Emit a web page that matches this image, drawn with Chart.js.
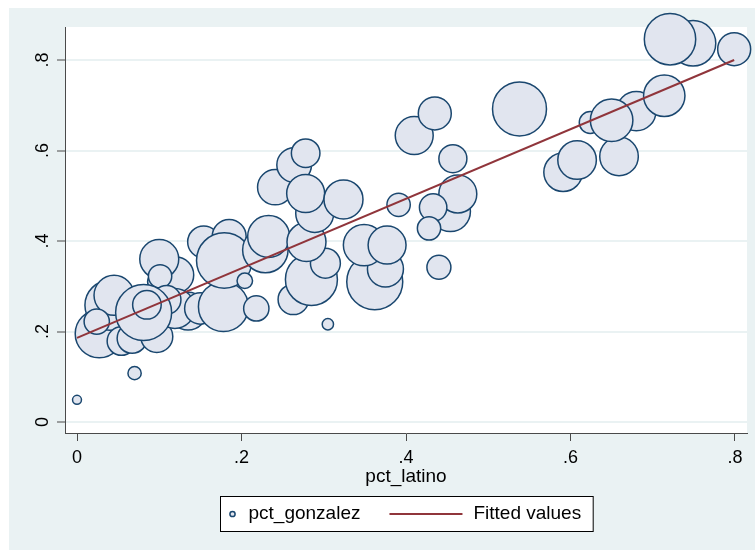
<!DOCTYPE html>
<html>
<head>
<meta charset="utf-8">
<script src="https://cdn.jsdelivr.net/npm/chart.js@4/dist/chart.umd.min.js"></script>
<style>
  html, body { margin: 0; padding: 0; background: #ffffff; }
  #wrap { width: 755px; height: 550px; }
</style>
</head>
<body>
<div id="wrap"><canvas id="chart" width="755" height="550"></canvas></div>
<script>
// Share of Latino residents per district (x) and Gonzalez vote share (y),
// with a weight per district that sets the bubble area.
const pctLatino = [
  0.027, 0.040, 0.045, 0.024, 0.054, 0.067, 0.097, 0.120, 0.098, 0.100,
  0.101, 0.135, 0.119, 0.109, 0.081, 0.085, 0.150, 0.178, 0.154, 0.185,
  0.179, 0.204, 0.218, 0.229, 0.233, 0.263, 0.285, 0.302, 0.279, 0.289,
  0.241, 0.264, 0.278, 0.278, 0.324, 0.305, 0.362, 0.375, 0.349, 0.377,
  0.391, 0.454, 0.463, 0.433, 0.428, 0.440, 0.410, 0.435, 0.457, 0.538,
  0.591, 0.608, 0.659, 0.624, 0.680, 0.650, 0.714, 0.749, 0.721, 0.799,
  0.070, 0.000
];
const pctGonzalez = [
  0.195, 0.258, 0.280, 0.222, 0.179, 0.185, 0.189, 0.325, 0.310, 0.360,
  0.322, 0.245, 0.251, 0.270, 0.242, 0.259, 0.251, 0.255, 0.398, 0.410,
  0.357, 0.312, 0.251, 0.380, 0.410, 0.271, 0.315, 0.351, 0.398, 0.461,
  0.519, 0.568, 0.505, 0.594, 0.492, 0.216, 0.310, 0.338, 0.391, 0.391,
  0.480, 0.465, 0.504, 0.474, 0.428, 0.342, 0.633, 0.682, 0.582, 0.692,
  0.552, 0.579, 0.587, 0.662, 0.687, 0.667, 0.721, 0.837, 0.846, 0.824,
  0.108, 0.049
];
const weight = [
  144, 156, 100, 40, 51, 56, 64, 81, 25, 95,
  34, 90, 100, 51, 196, 51, 62, 156, 64, 72,
  192, 15, 40, 129, 110, 58, 169, 56, 95, 90,
  78, 75, 90, 51, 95, 8, 196, 81, 107, 90,
  34, 100, 90, 47, 34, 36, 90, 68, 49, 182,
  93, 93, 93, 30, 97, 113, 107, 129, 165, 68,
  11, 5
];

// Linear fit of pct_gonzalez on pct_latino, at the ends of the x range.
const fitX = [0, 0.799];
const fitY = [0.186, 0.800];

const xTicks = [0, 0.2, 0.4, 0.6, 0.8];
const yTicks = [0, 0.2, 0.4, 0.6, 0.8];
const seriesNames = ['pct_gonzalez', 'Fitted values'];
const xTitle = 'pct_latino';

const FONT = '"Liberation Sans", Arial, Helvetica, sans-serif';
const NAVY = '#1A476F';
const BUBBLE_FILL = '#E1E5EF';
const MAROON = '#90353B';
const REGION_BG = '#EAF2F3';
const AXIS = '#4a4a4a';

// "0", ".2", ".4" ... with no leading zero
function fmt(v) {
  if (Math.abs(v) < 1e-9) return '0';
  return String(Math.round(v * 10) / 10).replace(/^0\./, '.');
}

const bubbleData = pctLatino.map((x, i) => ({ x: x, y: pctGonzalez[i], r: 2 * Math.sqrt(weight[i]) }));
const fitData = fitX.map((x, i) => ({ x: x, y: fitY[i] }));

// Graph region and plot region backgrounds
const backgroundPlugin = {
  id: 'regions',
  beforeDraw(chart) {
    const { ctx, chartArea: a } = chart;
    ctx.save();
    ctx.fillStyle = '#ffffff';
    ctx.fillRect(0, 0, chart.width, chart.height);
    ctx.fillStyle = REGION_BG;
    ctx.fillRect(9, 8, chart.width - 9, chart.height - 8);
    ctx.fillStyle = '#ffffff';
    ctx.fillRect(a.left, a.top, a.right - a.left, a.bottom - a.top);
    ctx.restore();
  }
};

// Vertical y tick labels, read bottom to top
const yLabelPlugin = {
  id: 'yLabels',
  afterDraw(chart) {
    const { ctx } = chart;
    const ys = chart.scales.y;
    ctx.save();
    ctx.font = '18px ' + FONT;
    ctx.fillStyle = '#000000';
    ctx.textAlign = 'center';
    ctx.textBaseline = 'middle';
    ys.ticks.forEach(t => {
      const py = ys.getPixelForValue(t.value);
      ctx.save();
      ctx.translate(43, py);
      ctx.rotate(-Math.PI / 2);
      ctx.fillText(fmt(t.value), 0, 0);
      ctx.restore();
    });
    ctx.restore();
  }
};

// Boxed legend centred under the plot
const legendPlugin = {
  id: 'boxLegend',
  afterDraw(chart) {
    const { ctx, chartArea: a } = chart;
    ctx.save();
    ctx.font = '19px ' + FONT;
    const w1 = ctx.measureText(seriesNames[0]).width;
    const w2 = ctx.measureText(seriesNames[1]).width;
    const padL = 12, markGap = 16, gapLine = 29, lineLen = 73, gapText = 11, padR = 12;
    const boxW = padL + markGap + w1 + gapLine + lineLen + gapText + w2 + padR;
    const boxH = 35;
    const cx = (a.left + a.right) / 2;
    const left = Math.round(cx - boxW / 2) + 0.5;
    const top = 496.5;
    const midY = top + boxH / 2;

    ctx.fillStyle = '#ffffff';
    ctx.fillRect(left, top, boxW, boxH);
    ctx.strokeStyle = '#000000';
    ctx.lineWidth = 1;
    ctx.strokeRect(left, top, boxW, boxH);

    // marker
    ctx.beginPath();
    ctx.arc(left + padL, midY, 2.6, 0, Math.PI * 2);
    ctx.fillStyle = BUBBLE_FILL;
    ctx.fill();
    ctx.strokeStyle = NAVY;
    ctx.lineWidth = 1.5;
    ctx.stroke();

    ctx.fillStyle = '#000000';
    ctx.textAlign = 'left';
    ctx.textBaseline = 'middle';
    let x = left + padL + markGap;
    ctx.fillText(seriesNames[0], x, midY);
    x += w1 + gapLine;

    ctx.beginPath();
    ctx.moveTo(x, midY);
    ctx.lineTo(x + lineLen, midY);
    ctx.strokeStyle = MAROON;
    ctx.lineWidth = 2;
    ctx.stroke();
    x += lineLen + gapText;

    ctx.fillStyle = '#000000';
    ctx.fillText(seriesNames[1], x, midY);
    ctx.restore();
  }
};

Chart.defaults.font.family = FONT;
Chart.defaults.color = '#000000';

new Chart(document.getElementById('chart'), {
  type: 'bubble',
  data: {
    datasets: [
      {
        type: 'line',
        label: seriesNames[1],
        data: fitData,
        borderColor: MAROON,
        borderWidth: 2,
        pointRadius: 0,
        fill: false,
        tension: 0,
        order: 0
      },
      {
        type: 'bubble',
        label: seriesNames[0],
        data: bubbleData,
        backgroundColor: BUBBLE_FILL,
        borderColor: NAVY,
        borderWidth: 1.5,
        clip: false,
        order: 1
      }
    ]
  },
  options: {
    responsive: false,
    animation: false,
    devicePixelRatio: 1,
    events: [],
    layout: { autoPadding: false, padding: { left: 0, top: 27, right: 8, bottom: 0 } },
    plugins: {
      legend: { display: false },
      tooltip: { enabled: false }
    },
    scales: {
      x: {
        type: 'linear',
        position: 'bottom',
        min: -0.0146,
        max: 0.8146,
        afterBuildTicks: s => { s.ticks = xTicks.map(v => ({ value: v })); },
        afterFit: s => { s.height = 117; },
        grid: {
          drawOnChartArea: false,
          drawTicks: true,
          tickLength: 8,
          tickColor: AXIS,
          tickWidth: 1
        },
        border: { display: true, color: AXIS, width: 1 },
        ticks: {
          autoSkip: false,
          maxRotation: 0,
          minRotation: 0,
          padding: 6,
          font: { size: 18 },
          color: '#000000',
          callback: v => fmt(v)
        },
        title: {
          display: true,
          text: xTitle,
          font: { size: 19 },
          color: '#000000',
          padding: { top: 0, bottom: 61.6 }
        }
      },
      y: {
        type: 'linear',
        position: 'left',
        min: -0.0243,
        max: 0.873,
        afterBuildTicks: s => { s.ticks = yTicks.map(v => ({ value: v })); },
        afterFit: s => { s.width = 65; },
        grid: {
          color: REGION_BG,
          lineWidth: 2,
          drawTicks: true,
          tickLength: 8,
          tickColor: AXIS,
          tickWidth: 1
        },
        border: { display: true, color: AXIS, width: 1 },
        ticks: { display: false }
      }
    }
  },
  plugins: [backgroundPlugin, yLabelPlugin, legendPlugin]
});
</script>
</body>
</html>
